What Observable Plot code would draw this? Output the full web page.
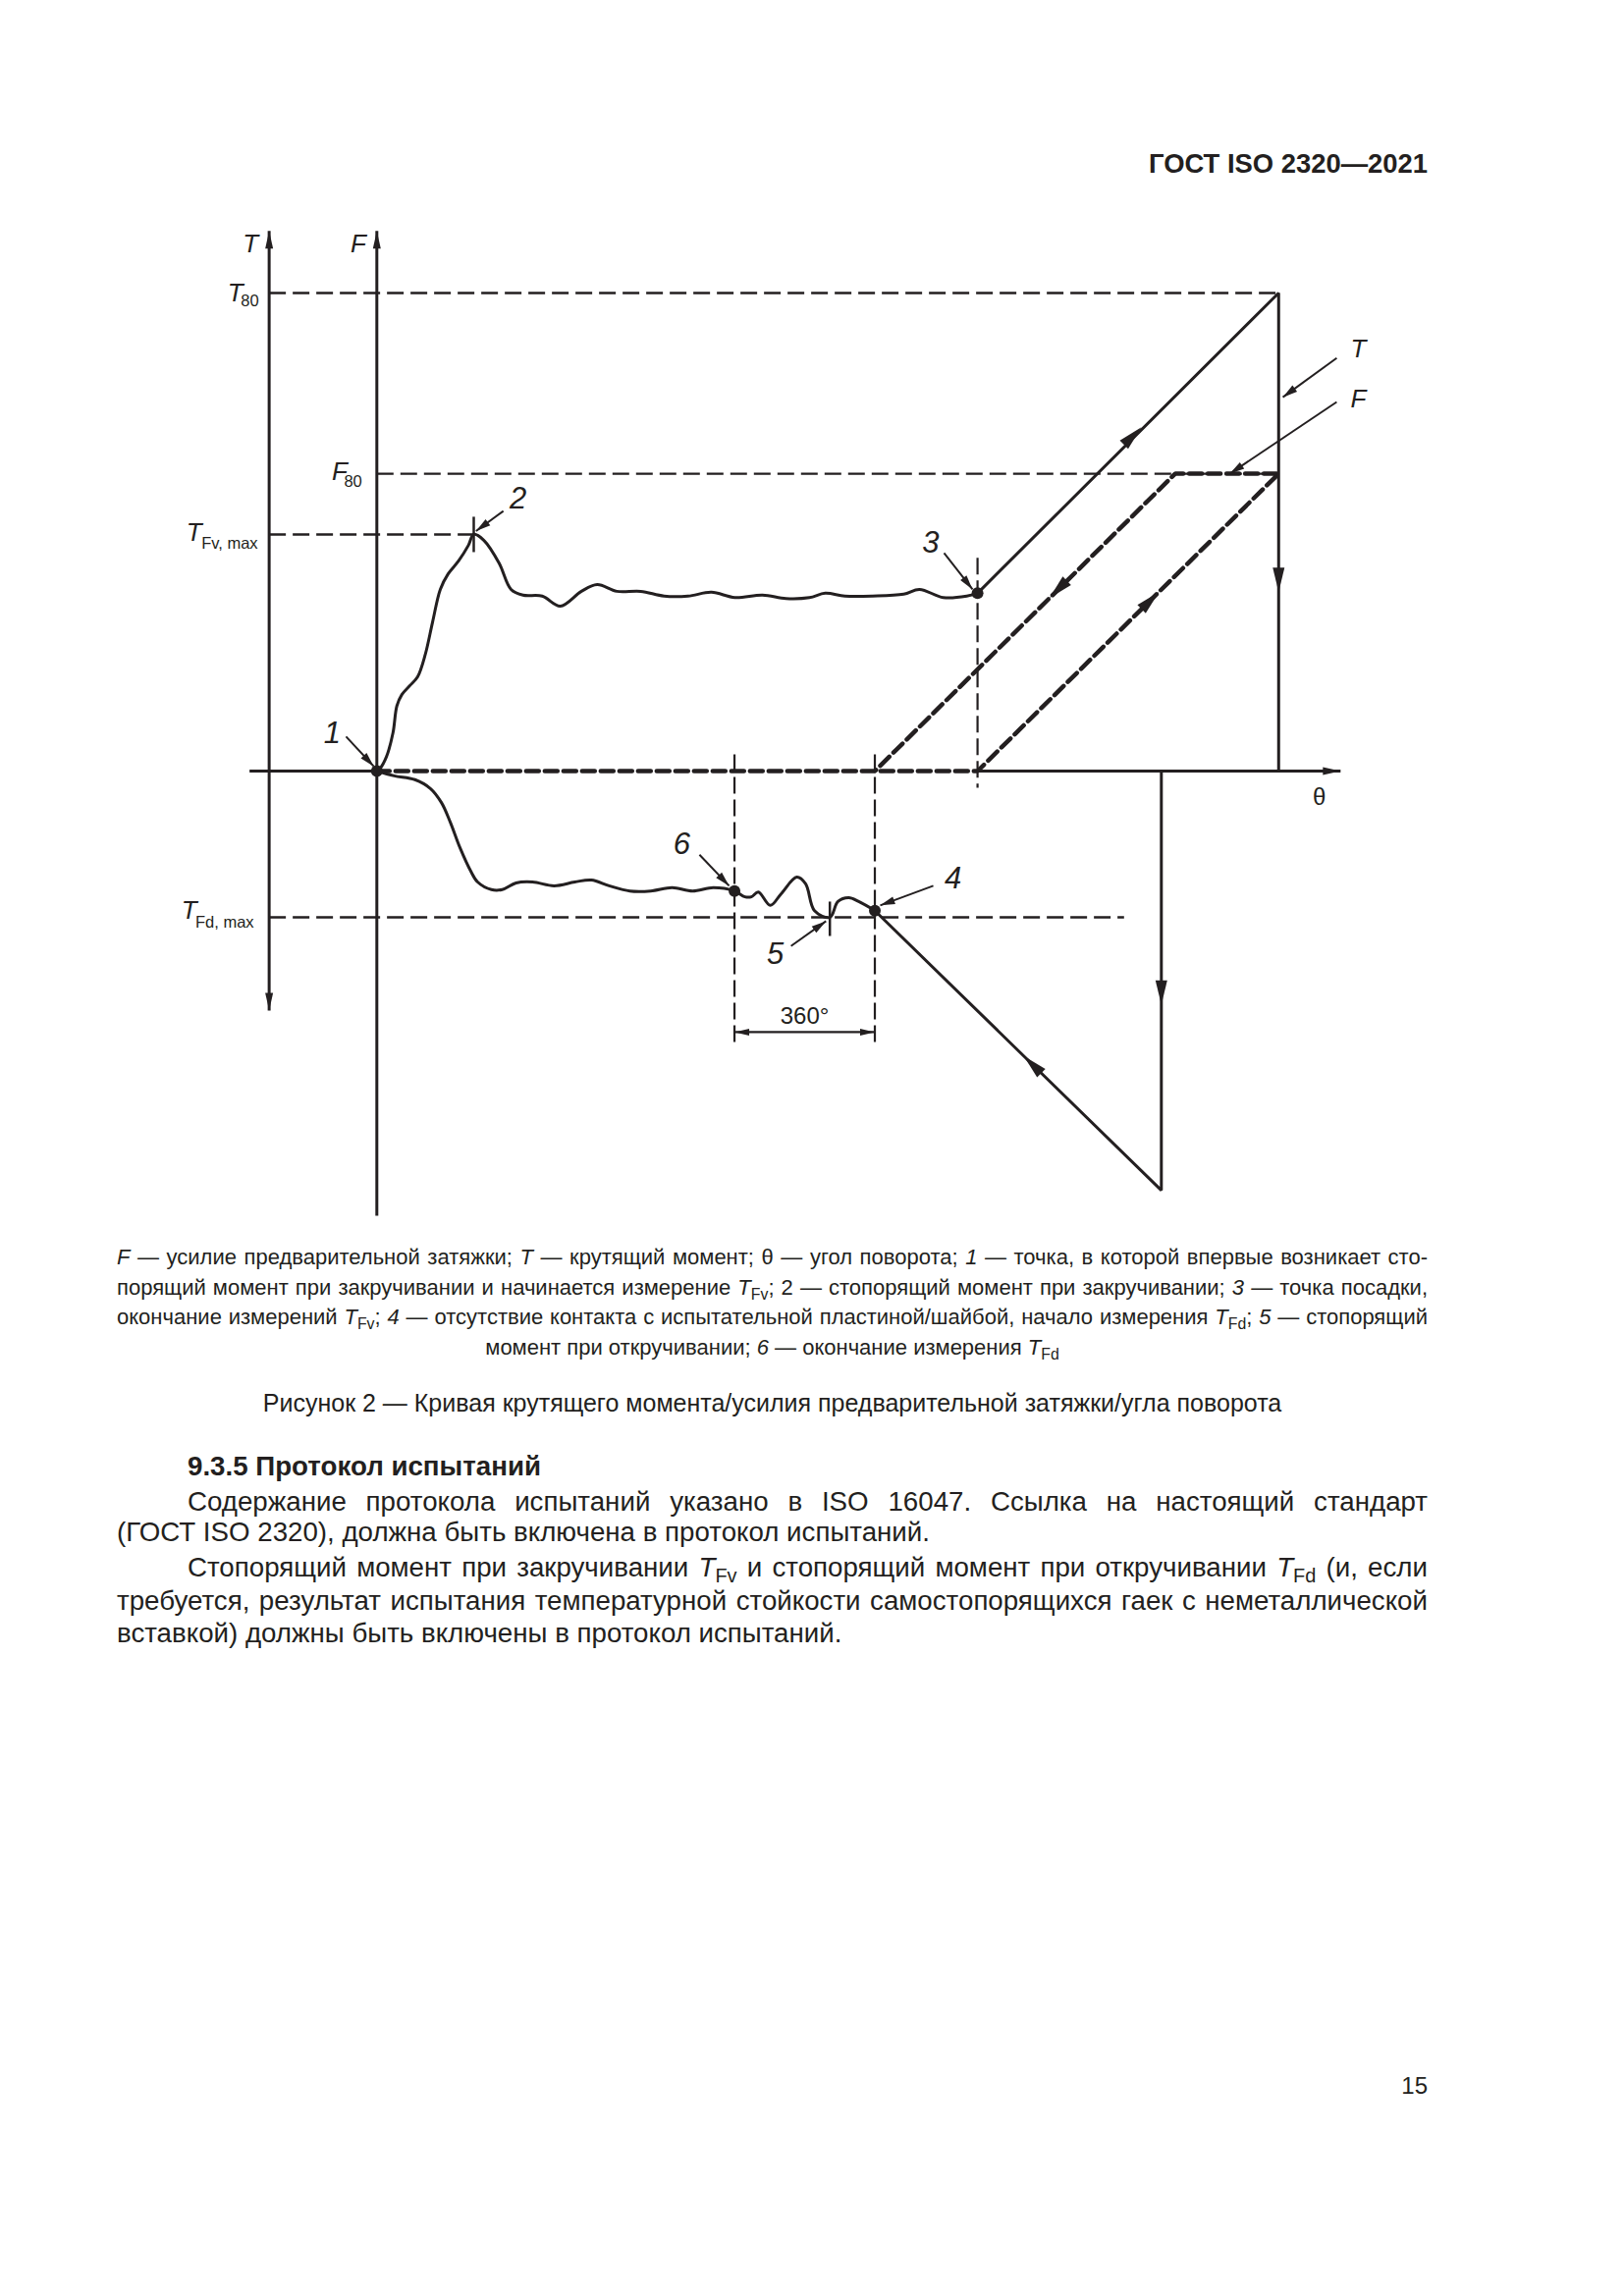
<!DOCTYPE html>
<html><head><meta charset="utf-8">
<script src="https://cdn.jsdelivr.net/npm/d3@7"></script>
<script src="https://cdn.jsdelivr.net/npm/@observablehq/plot@0.6"></script>
<style>
html,body{margin:0;padding:0;background:#fff;}
#page{position:relative;width:1654px;height:2339px;background:#fff;font-family:"Liberation Sans",Arial,sans-serif;color:#231f20;overflow:hidden;}
.abs{position:absolute;white-space:nowrap;line-height:1;}
.jl{position:absolute;white-space:nowrap;line-height:1;text-align:justify;text-align-last:justify;}
.ctr{position:absolute;white-space:nowrap;line-height:1;text-align:center;}
sub{font-size:0.72em;vertical-align:baseline;position:relative;top:0.32em;}
#chart{position:absolute;left:0;top:200px;}
</style></head>
<body><div id="page">
<div class="abs" style="right:200px;top:153px;font-size:27.4px;font-weight:bold;">ГОСТ ISO 2320—2021</div>
<div id="chart"></div>
<div class="jl" style="left:119px;width:1335px;top:1270px;font-size:22px;"><i>F</i> — усилие предварительной затяжки; <i>T</i> — крутящий момент; θ — угол поворота; <i>1</i> — точка, в которой впервые возникает сто-</div>
<div class="jl" style="left:119px;width:1335px;top:1301px;font-size:22px;">порящий момент при закручивании и начинается измерение <i>T</i><sub>Fv</sub>; 2 — стопорящий момент при закручивании; <i>3</i> — точка посадки,</div>
<div class="jl" style="left:119px;width:1335px;top:1331px;font-size:22px;">окончание измерений <i>T</i><sub>Fv</sub>; <i>4</i> — отсутствие контакта с испытательной пластиной/шайбой, начало измерения <i>T</i><sub>Fd</sub>; <i>5</i> — стопорящий</div>
<div class="ctr" style="left:119px;width:1335px;top:1362px;font-size:22px;">момент при откручивании; <i>6</i> — окончание измерения <i>T</i><sub>Fd</sub></div>
<div class="ctr" style="left:119px;width:1335px;top:1417px;font-size:25px;">Рисунок 2 — Кривая крутящего момента/усилия предварительной затяжки/угла поворота</div>
<div class="abs" style="left:191px;top:1480px;font-size:27.7px;font-weight:bold;">9.3.5 Протокол испытаний</div>
<div class="jl" style="left:191px;width:1263px;top:1516px;font-size:27.7px;">Содержание протокола испытаний указано в ISO 16047. Ссылка на настоящий стандарт</div>
<div class="abs" style="left:119px;top:1547px;font-size:27.7px;">(ГОСТ ISO 2320), должна быть включена в протокол испытаний.</div>
<div class="jl" style="left:191px;width:1263px;top:1583px;font-size:27.7px;">Стопорящий момент при закручивании <i>T</i><sub>Fv</sub> и стопорящий момент при откручивании <i>T</i><sub>Fd</sub> (и, если</div>
<div class="jl" style="left:119px;width:1335px;top:1617px;font-size:27.7px;">требуется, результат испытания температурной стойкости самостопорящихся гаек с неметаллической</div>
<div class="abs" style="left:119px;top:1650px;font-size:27.7px;">вставкой) должны быть включены в протокол испытаний.</div>
<div class="abs" style="right:200px;top:2113px;font-size:24px;">15</div>
</div>
<script>
// ---- data (θ in degrees, T/F in % of T80) ----
const T80 = 100, F80 = 62.2, TFvMax = 49.5, TFdMax = -30.6;

// tightening torque curve (1 -> 2 -> 3)
const upperTheta = [0, 8, 25, 42, 52, 65, 85, 106, 126, 145, 165, 185, 213, 238, 252, 278, 318, 349, 380, 430, 477, 532, 573, 624, 686, 747, 809, 870, 931, 1003, 1064, 1125, 1166, 1217, 1289, 1370, 1411, 1473, 1534, 1562];
const upperT     = [0, 0.5, 3, 8, 13.6, 16, 17.8, 19.7, 24.4, 31.2, 38.0, 41.2, 44.0, 47.2, 49.5, 48.3, 43.5, 38.0, 36.8, 36.6, 34.5, 37.6, 39.0, 37.6, 37.6, 36.6, 36.6, 37.4, 36.3, 36.8, 36.1, 36.3, 37.2, 36.6, 36.6, 37.0, 38.0, 36.3, 36.6, 37.2];

// loosening torque curve (1 -> 6 -> 5 -> 4)
const lowerTheta = [0, 45, 99, 140, 168, 191, 216, 244, 262, 298, 326, 362, 405, 461, 515, 558, 604, 658, 712, 768, 821, 875, 930, 957, 974, 992, 1023, 1051, 1092, 1115, 1138, 1178, 1199, 1227, 1253, 1295];
const lowerT     = [0, -1.0, -1.8, -3.7, -6.6, -10.7, -16.0, -20.9, -23.2, -24.8, -24.8, -23.4, -23.2, -24.0, -23.2, -22.8, -24.0, -25.1, -25.1, -24.4, -25.1, -24.4, -25.1, -26.3, -26.3, -25.3, -28.1, -25.7, -22.2, -23.6, -29.2, -30.6, -27.3, -26.5, -27.3, -29.2];

// straight torque paths
const tLoadTheta = [1562, 2345, 2345];
const tLoadT     = [37.2, 100, 0];
const tUnloadTheta = [2040, 2040, 1295];
const tUnloadT     = [0, -87.7, -29.2];

// preload force path (dashed)
const fTheta = [0, 1562, 2345, 2076, 1295];
const fValue = [0, 0, 62.2, 62.2, 0];

// reference levels
const levelT    = [T80, F80, TFvMax, TFdMax];
const levelFrom = [-280, 0, -280, -280];
const levelTo   = [2345, 2345, 252, 1943];
const levelMain = ["T", "F", "T", "T"];
const levelSub  = ["80", "80", "Fv, max", "Fd, max"];

// vertical guides
const guideTheta  = [1562, 930, 1295];
const guideTop    = [44.6, 3.5, 3.5];
const guideBottom = [-3.5, -57.5, -57.5];

// axes
const axisX1 = [-331, 1562, -280, 0];
const axisX2 = [0, 2506, -280, 0];
const axisY1 = [0, 0, -50.1, -93];
const axisY2 = [0, 0, 113, 113];

// marked points
const dotTheta = [0, 1562, 1295, 930];
const dotT     = [0, 37.2, -29.2, -25.1];
const tickTheta  = [252, 1178];
const tickTop    = [53.2, -27.3];
const tickBottom = [45.8, -34.5];

// leaders with labels
const leaderNames      = ["1", "2", "3", "4", "5", "6", "T", "F"];
const leaderFromTheta  = [-80, 329, 1475, 1447, 1077, 839, 2496, 2496];
const leaderFromT      = [7.2, 54.4, 45.6, -24.0, -36.6, -17.5, 86.4, 77.2];
const leaderToTheta    = [-8, 258, 1549, 1309, 1168, 916, 2356, 2218];
const leaderToT        = [1.0, 50.2, 38.0, -28.1, -31.4, -24.0, 78.2, 62.2];
const leaderLabelTheta = [-116, 367, 1440, 1498, 1036, 793, 2552, 2552];
const leaderLabelT     = [7.8, 56.9, 47.8, -22.6, -38.4, -15.4, 88.3, 77.8];

// arrows on the curves
const curveArrowTheta    = [1988, 2345, 2040, 1682, 2034, 1749];
const curveArrowT        = [71.9, 37.4, -48.9, -59.6, 37.5, 36.2];
const curveArrowDirTheta = [783, 0, 0, -745, 783, -781];
const curveArrowDirT     = [62.8, -1, -1, 58.5, 62.2, -62.2];

// axis arrow tips
const axisArrowTheta = [2506, -280, 0, -280];
const axisArrowT     = [0, 113, 113, -50.1];
const axisArrowDirTheta = [1, 0, 0, 0];
const axisArrowDirT     = [0, 1, 1, -1];

// 360° dimension
const dimTheta = [930, 1295];
const dimT = -54.6;
const dimLabel = "360°";

// ---- drawing ----
const ink = "#231f20";
const font = "Liberation Sans, Arial, sans-serif";
const kx = 391.67 / 1000, ky = 487 / 100;
const rot = (dx, dy) => Math.atan2(dx * kx, dy * ky) * 180 / Math.PI;
const head = (len, hw) => ({draw(ctx) { ctx.moveTo(0, 0); ctx.lineTo(hw, len); ctx.lineTo(-hw, len); ctx.closePath(); }});

const levelMainDx = [-26.5, -30, -68.5, -73.5];
const levelSubDx  = [-10.5, -15, -11.5, -15.5];
const levelMainDy = [0, -2, -2, -7];
const levelSubDy  = [8, 8, 9, 5];

const marks = [
  Plot.link(levelT, {x1: levelFrom, x2: levelTo, y1: levelT, y2: levelT, stroke: ink, strokeWidth: 2.4, strokeDasharray: "17,7"}),
  Plot.link(guideTheta, {x1: guideTheta, x2: guideTheta, y1: guideTop, y2: guideBottom, stroke: ink, strokeWidth: 2.2, strokeDasharray: "17,6"}),
  Plot.link(axisX1, {x1: axisX1, x2: axisX2, y1: axisY1, y2: axisY2, stroke: ink, strokeWidth: 3}),
  Plot.line(fTheta, {x: fTheta, y: fValue, stroke: ink, strokeWidth: 4.5, strokeDasharray: "13,6", strokeLinejoin: "miter"}),
  Plot.line(upperTheta, {x: upperTheta, y: upperT, stroke: ink, strokeWidth: 3, curve: "catmull-rom"}),
  Plot.line(lowerTheta, {x: lowerTheta, y: lowerT, stroke: ink, strokeWidth: 3, curve: "catmull-rom"}),
  Plot.line(tLoadTheta, {x: tLoadTheta, y: tLoadT, stroke: ink, strokeWidth: 3, strokeLinejoin: "miter"}),
  Plot.line(tUnloadTheta, {x: tUnloadTheta, y: tUnloadT, stroke: ink, strokeWidth: 3, strokeLinejoin: "miter"}),
  Plot.link(tickTheta, {x1: tickTheta, x2: tickTheta, y1: tickTop, y2: tickBottom, stroke: ink, strokeWidth: 2.5}),
  Plot.link([0], {x1: dimTheta[0], x2: dimTheta[1], y1: dimT, y2: dimT, stroke: ink, strokeWidth: 2.2}),
  Plot.dot(dimTheta, {x: dimTheta, y: dimT, symbol: head(15, 3.5), r: 5, fill: ink, stroke: "none", rotate: [rot(-1, 0), rot(1, 0)]}),
  Plot.link(leaderNames, {x1: leaderFromTheta, y1: leaderFromT, x2: leaderToTheta, y2: leaderToT, stroke: ink, strokeWidth: 2}),
  Plot.dot(leaderNames, {x: leaderToTheta, y: leaderToT, symbol: head(15, 4), r: 5, fill: ink, stroke: "none",
    rotate: leaderNames.map((d, i) => rot(leaderToTheta[i] - leaderFromTheta[i], leaderToT[i] - leaderFromT[i]))}),
  Plot.dot(curveArrowTheta, {x: curveArrowTheta, y: curveArrowT, symbol: head(25, 6), r: 6, fill: ink, stroke: "none",
    rotate: curveArrowTheta.map((d, i) => rot(curveArrowDirTheta[i], curveArrowDirT[i]))}),
  Plot.dot(axisArrowTheta, {x: axisArrowTheta, y: axisArrowT, symbol: head(18, 4), r: 5, fill: ink, stroke: "none",
    rotate: axisArrowTheta.map((d, i) => rot(axisArrowDirTheta[i], axisArrowDirT[i]))}),
  Plot.dot(dotTheta, {x: dotTheta, y: dotT, r: 6, fill: ink, stroke: "none"}),
  Plot.text(leaderNames.slice(0, 6), {x: leaderLabelTheta.slice(0, 6), y: leaderLabelT.slice(0, 6), text: leaderNames.slice(0, 6), fontSize: 31, fontStyle: "italic", fontFamily: font, fill: ink}),
  Plot.text(leaderNames.slice(6), {x: leaderLabelTheta.slice(6), y: leaderLabelT.slice(6), text: leaderNames.slice(6), fontSize: 26, fontStyle: "italic", fontFamily: font, fill: ink}),
  Plot.text([dimLabel], {x: (dimTheta[0] + dimTheta[1]) / 2, y: -51.2, text: [dimLabel], fontSize: 24, fontFamily: font, fill: ink}),
  Plot.text(["T", "F"], {x: [-280, 0], y: [110.3, 110.3], text: ["T", "F"], dx: -11, textAnchor: "end", fontSize: 26, fontStyle: "italic", fontFamily: font, fill: ink}),
  Plot.text(["θ"], {x: [2451], y: [-5.5], text: ["θ"], fontSize: 24, fontFamily: font, fill: ink}),
  ...levelMain.map((t, i) => Plot.text([t], {x: [levelFrom[i] === 0 ? 0 : -280], y: [levelT[i]], text: [t], dx: levelMainDx[i], dy: levelMainDy[i], textAnchor: "end", fontSize: 26, fontStyle: "italic", fontFamily: font, fill: ink})),
  ...levelSub.map((t, i) => Plot.text([t], {x: [levelFrom[i] === 0 ? 0 : -280], y: [levelT[i]], text: [t], dx: levelSubDx[i], dy: levelSubDy[i], textAnchor: "end", fontSize: 16.5, fontFamily: font, fill: ink}))
];

const chart = Plot.plot({
  width: 1654,
  height: 1060,
  x: {domain: [0, 1000], range: [383.3, 774.97], axis: null},
  y: {domain: [0, 100], range: [585, 98], axis: null},
  style: {fontFamily: font, background: "transparent", overflow: "visible"},
  marks
});
document.getElementById("chart").appendChild(chart);
</script>
</body></html>
